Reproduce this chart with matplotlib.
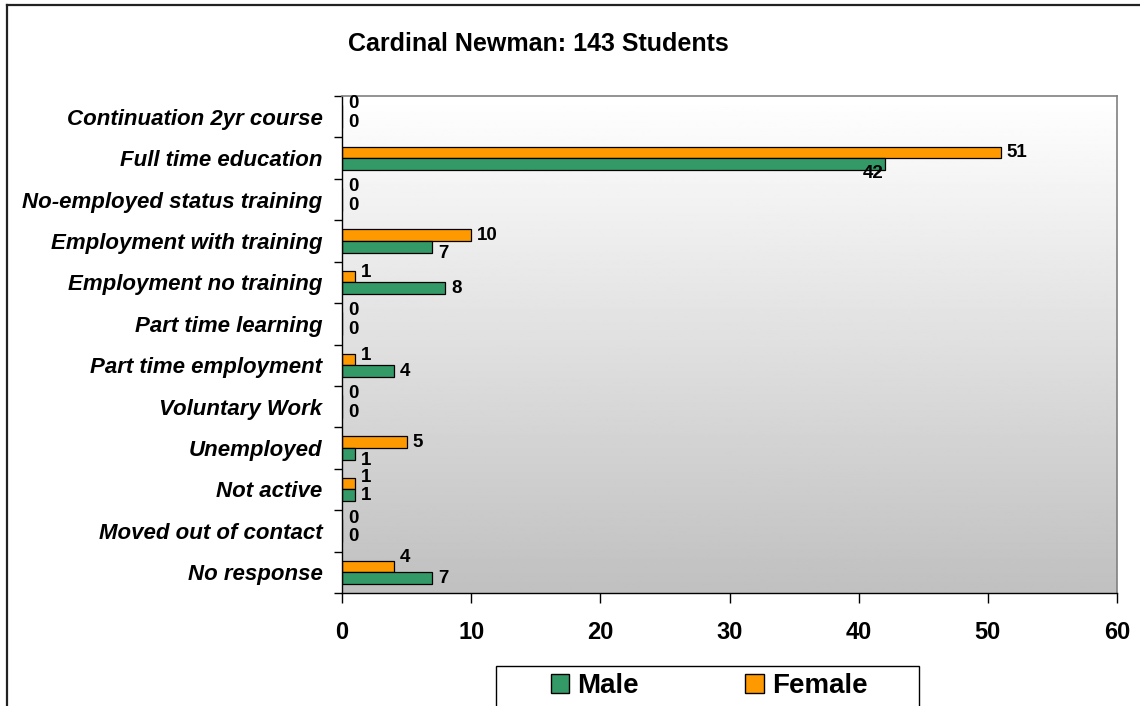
import numpy as np
import matplotlib
matplotlib.use("Agg")
import matplotlib.pyplot as plt
from matplotlib.patches import Rectangle, Patch
from matplotlib.lines import Line2D

plt.rcParams['font.family'] = ['Liberation Sans', 'DejaVu Sans']

title = "Cardinal Newman: 143 Students"
categories = ["Continuation 2yr course", "Full time education", "No-employed status training",
              "Employment with training", "Employment no training", "Part time learning",
              "Part time employment", "Voluntary Work", "Unemployed", "Not active",
              "Moved out of contact", "No response"]
male = [0, 42, 0, 7, 8, 0, 4, 0, 1, 1, 0, 7]
female = [0, 51, 0, 10, 1, 0, 1, 0, 5, 1, 0, 4]
xticks = [0, 10, 20, 30, 40, 50, 60]
series_names = ["Male", "Female"]

# label nudges (pixels) mimicking the original placement
female_dy = [-7, 0, -7, 0, -4, -7, -4, -7, 0, -6, -7, -9]
male_dy = [0, 10, 0, 7, 0, 0, 0, 0, 7, 0, 0, 0]
male_dx = [0, -28, 0, 0, 0, 0, 0, 0, 0, 0, 0, 0]

GREEN = "#339966"
ORANGE = "#FF9900"

W, H = 1140, 706
fig = plt.figure(figsize=(W / 100, H / 100), dpi=100)
fig.patch.set_facecolor("white")

L, R, T, B = 342, 1117, 96, 593
ax = fig.add_axes([L / W, 1 - B / H, (R - L) / W, (B - T) / H])

# gradient background
grad = np.linspace(1.0, 0.753, 256).reshape(-1, 1)
ax.imshow(grad, cmap="gray", vmin=0, vmax=1, extent=[0, 1, 0, 1], transform=ax.transAxes,
          aspect="auto", origin="upper", zorder=0)

n = len(categories)
y = np.arange(n)
h = 0.28
ax.barh(y - h / 2, female, height=h, color=ORANGE, edgecolor="black", linewidth=0.9, zorder=2)
ax.barh(y + h / 2, male, height=h, color=GREEN, edgecolor="black", linewidth=0.9, zorder=2)

px = 72 / 100  # points per pixel
for i in range(n):
    ax.annotate(str(female[i]), (female[i], y[i] - h / 2), xytext=(6 * px, -female_dy[i] * px),
                textcoords="offset points", ha="left", va="center", fontsize=13.5,
                fontweight="bold", zorder=3, annotation_clip=False)
    ax.annotate(str(male[i]), (male[i], y[i] + h / 2),
                xytext=((6 + male_dx[i]) * px, -male_dy[i] * px),
                textcoords="offset points", ha="left", va="center", fontsize=13.5,
                fontweight="bold", zorder=3, annotation_clip=False)

ax.set_xlim(0, 60)
ax.set_ylim(n - 0.5, -0.5)
ax.set_xticks(xticks)
ax.set_xticklabels([str(v) for v in xticks], fontsize=17, fontweight="bold")
ax.tick_params(axis="x", direction="out", length=7, width=1, pad=13, colors="black")

ax.set_yticks(y)
ax.set_yticklabels(categories, fontsize=16, fontweight="bold", fontstyle="italic")
ax.set_yticks(np.arange(n + 1) - 0.5, minor=True)
ax.tick_params(axis="y", which="major", length=0, pad=14)
ax.tick_params(axis="y", which="minor", length=6, width=1, direction="out", colors="black")

for s in ["top", "right"]:
    ax.spines[s].set_color("#808080")
    ax.spines[s].set_linewidth(1.2)
for s in ["left", "bottom"]:
    ax.spines[s].set_color("black")
    ax.spines[s].set_linewidth(1.0)

fig.text(0.5 * (350 + 727) / W, 1 - 44 / H, title, ha="center", va="center",
         fontsize=18, fontweight="bold")

# legend
handles = [Patch(facecolor=GREEN, edgecolor="black", linewidth=1.0),
           Patch(facecolor=ORANGE, edgecolor="black", linewidth=1.0)]
leg = fig.legend(handles, series_names, loc="center", bbox_to_anchor=(709 / W, 1 - 686 / H),
                 ncol=2, frameon=False, prop={"size": 20, "weight": "bold"},
                 handlelength=0.65, handleheight=0.65, handletextpad=0.3, columnspacing=3.85,
                 borderpad=0.0)
fig.patches.append(Rectangle((496 / W, 1 - 712 / H), (919 - 496) / W, (712 - 666) / H,
                             transform=fig.transFigure, facecolor="white", edgecolor="black",
                             linewidth=1.0, zorder=0))

# figure border (top and left)
fig.add_artist(Line2D([6.5 / W, 1.0], [1 - 5 / H, 1 - 5 / H], transform=fig.transFigure,
                      color="#222222", linewidth=1.6))
fig.add_artist(Line2D([6.5 / W, 6.5 / W], [1 - 5 / H, 0.0], transform=fig.transFigure,
                      color="#222222", linewidth=1.6))

fig.savefig("out.png", dpi=100)
